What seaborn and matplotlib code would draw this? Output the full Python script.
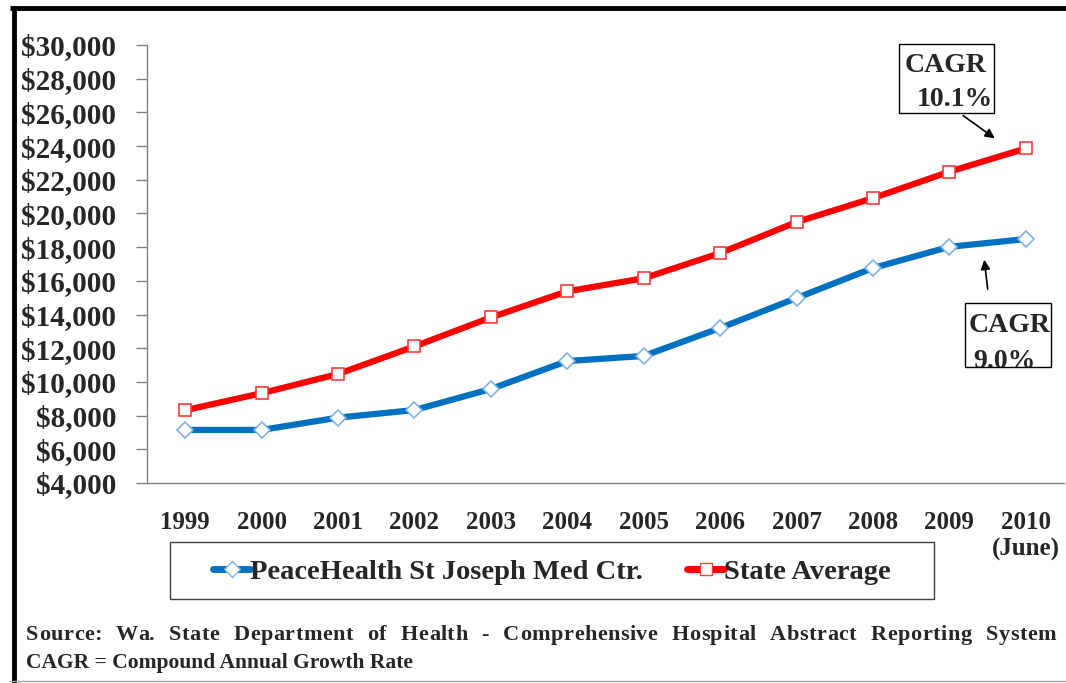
import pandas as pd
import matplotlib.pyplot as plt
import seaborn as sns
from matplotlib.patches import Rectangle
from matplotlib.lines import Line2D

# values
years = ["1999", "2000", "2001", "2002", "2003", "2004",
         "2005", "2006", "2007", "2008", "2009", "2010\n(June)"]
peacehealth = [7150, 7150, 7880, 8330, 9580, 11240,
               11540, 13200, 14980, 16760, 18020, 18480]
state_avg = [8320, 9330, 10470, 12110, 13830, 15380,
             16150, 17650, 19490, 20910, 22480, 23860]
series_names = ["PeaceHealth St Joseph Med Ctr.", "State Average"]
y_ticks = list(range(4000, 30001, 2000))
source_line = "Source: Wa. State Department of Health - Comprehensive Hospital Abstract Reporting System"
cagr_line = "CAGR = Compound Annual Growth Rate"

df = pd.DataFrame({
    "year": years * 2,
    "cost": peacehealth + state_avg,
    "series": [series_names[0]] * len(years) + [series_names[1]] * len(years),
})

sns.set_style("white")
plt.rcParams["font.family"] = ["Liberation Serif", "DejaVu Serif"]
plt.rcParams["font.weight"] = "bold"

W, H = 1066, 683
fig = plt.figure(figsize=(W / 100, H / 100), dpi=100)
ax = fig.add_axes([147 / W, 1 - 483 / H, (1064 - 147) / W, (483 - 45) / H])

blue, red = "#0070C0", "#FF0000"
sns.lineplot(
    data=df, x="year", y="cost", hue="series", style="series",
    palette={series_names[0]: blue, series_names[1]: red},
    markers={series_names[0]: "D", series_names[1]: "s"},
    dashes=False, linewidth=4.5, markersize=8.5, sort=False, ax=ax, legend=False,
)
# white-filled markers with a lighter edge
for line, edge in zip(ax.get_lines(), ["#7FB2E5", "#FF3B3B"]):
    line.set_markerfacecolor("white")
    line.set_markeredgecolor(edge)
    line.set_markeredgewidth(1.2)

ax.set_xlim(-0.5, len(years) - 0.5)
ax.set_ylim(4000, 30000)
ax.set_yticks(y_ticks)
ax.set_yticklabels([f"${v:,}" for v in y_ticks], fontsize=21, fontweight="bold")
ax.set_xticks(range(len(years)))
ax.set_xticklabels(years, fontsize=18, fontweight="bold", linespacing=1.2)
ax.set_xticks([i - 0.5 for i in range(len(years) + 1)], minor=True)
ax.tick_params(axis="x", which="major", length=0, pad=20)
ax.tick_params(axis="x", which="minor", length=8, color="#808080", width=1, direction="out")
ax.tick_params(axis="y", length=8, color="#808080", width=1, direction="out", pad=14, left=True)
ax.set_xlabel("")
ax.set_ylabel("")
for side in ["top", "right"]:
    ax.spines[side].set_visible(False)
for side in ["left", "bottom"]:
    ax.spines[side].set_color("#808080")
    ax.spines[side].set_linewidth(1)

# legend (frame drawn separately so its size matches)
handles = [
    Line2D([], [], color=blue, lw=5, marker="D", markersize=8, solid_capstyle="round",
           markerfacecolor="white", markeredgecolor="#7FB2E5"),
    Line2D([], [], color=red, lw=5, marker="s", markersize=8, solid_capstyle="round",
           markerfacecolor="white", markeredgecolor="#FF3B3B"),
]
fig.legend(handles, series_names, loc="center left",
           bbox_to_anchor=(213 / W, 1 - 572 / H),
           ncol=2, frameon=False, handlelength=1.3, borderpad=0, borderaxespad=0,
           handletextpad=0.0, columnspacing=1.55,
           prop={"size": 20.5, "weight": "bold"})
fig.add_artist(Rectangle((170, H - 599), 764, 57, transform=None, fill=False,
                         edgecolor="#404040", lw=1))

# CAGR call-outs
fig.add_artist(Rectangle((899, H - 113), 95, 69, transform=None, fill=False,
                         edgecolor="black", lw=1))
fig.text(905 / W, 1 - 66 / H, "CAGR", fontsize=20, fontweight="bold",
         ha="left", va="center")
fig.text(917 / W, 1 - 100 / H, "10.1%", fontsize=20, fontweight="bold",
         ha="left", va="center")
ax.annotate("", xy=(997, H - 140), xycoords="figure pixels",
            xytext=(961, H - 114), textcoords="figure pixels",
            arrowprops=dict(arrowstyle="-|>", color="black", lw=1.2, mutation_scale=14))

fig.add_artist(Rectangle((965, H - 367), 86, 64, transform=None, fill=False,
                         edgecolor="black", lw=1))
fig.text(969 / W, 1 - 326 / H, "CAGR", fontsize=20, fontweight="bold",
         ha="left", va="center")
t = fig.text(973 / W, 1 - 361 / H, "9.0%", fontsize=20, fontweight="bold",
             ha="left", va="center")
clip = Rectangle((965, H - 367), 86, 64, transform=None, visible=False)
fig.add_artist(clip)
t.set_clip_path(clip)
ax.annotate("", xy=(984, H - 257), xycoords="figure pixels",
            xytext=(988, H - 292), textcoords="figure pixels",
            arrowprops=dict(arrowstyle="-|>", color="black", lw=1.2, mutation_scale=14))

# source notes; first line justified across the width, mostly in the word gaps
src_size = 16
renderer = fig.canvas.get_renderer()
probe = fig.text(0, 0, "", fontsize=src_size, fontweight="bold")
offsets = [0.0]
for i in range(1, len(source_line) + 1):
    probe.set_text(source_line[:i].replace(" ", "\u00a0"))
    offsets.append(probe.get_window_extent(renderer).width)
probe.remove()
x0, x1 = 26, 1062
n_spaces = source_line.count(" ")
n_letter_gaps = len(source_line) - 1 - n_spaces
extra = x1 - x0 - offsets[-1]
letter_step = 0.3 * extra / n_letter_gaps
space_step = 0.7 * extra / n_spaces
shift = 0.0
for i, ch in enumerate(source_line):
    if ch == " ":
        shift += space_step
        continue
    if i > 0 and source_line[i - 1] != " ":
        shift += letter_step
    fig.text((x0 + offsets[i] + shift) / W, 1 - 640 / H, ch, fontsize=src_size,
             fontweight="bold", ha="left", va="baseline")
fig.text(26 / W, 1 - 663 / H, cagr_line, fontsize=15.5, fontweight="bold",
         ha="left", va="center")

# outer frame: heavy top and left edges, thin grey bottom
fig.add_artist(Line2D([10 / W, 1], [1 - 7.5 / H] * 2, color="black", lw=3.5,
                      solid_capstyle="butt"))
fig.add_artist(Line2D([13.5 / W] * 2, [1 - 6 / H, 0], color="black", lw=3.5,
                      solid_capstyle="butt"))
fig.add_artist(Line2D([10 / W, 1], [1 - 681 / H] * 2, color="#A0A0A0", lw=1))

fig.savefig("out.png", dpi=100)
